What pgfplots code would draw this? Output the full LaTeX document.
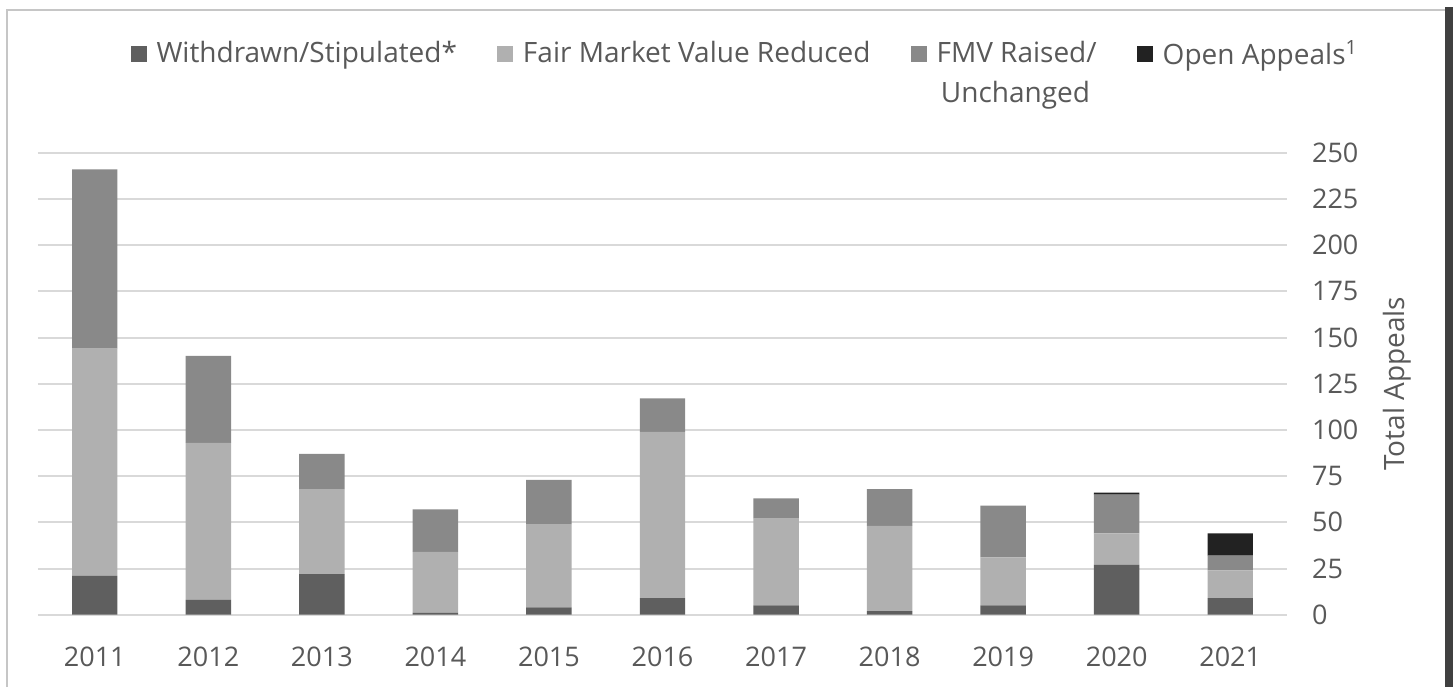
\documentclass[border=0pt]{standalone}
\usepackage{pgfplots}
\usepackage{pgfplotstable}
\pgfplotsset{compat=1.18}
\usepackage{fontspec}
\setmainfont{Open Sans}
\definecolor{wd}{HTML}{5F5F5F}
\definecolor{fr}{HTML}{B0B0B0}
\definecolor{rs}{HTML}{898989}
\definecolor{op}{HTML}{222222}
\definecolor{txt}{HTML}{595959}
\definecolor{gridc}{HTML}{D9D9D9}

\pgfplotstableread{
x wd fr rs op
0 21 123 97 0
1 8 85 47 0
2 22 46 19 0
3 1 33 23 0
4 4 45 24 0
5 9 90 18 0
6 5 47 11 0
7 2 46 20 0
8 5 26 28 0
9 27 17 21 1
10 9 15 8 12
}\datatable

\begin{document}
\begin{tikzpicture}[x=1pt,y=1pt]
\useasboundingbox (0,0) rectangle (726.5,343.5);
\fill[white] (0,0) rectangle (726.5,343.5);
\draw[gray!45, line width=1pt] (3.5,0) -- (3.5,338.7) -- (722.5,338.7);
\fill[black!75] (722.5,0) rectangle (726.5,340);
\begin{axis}[
  at={(19pt,36.15pt)}, anchor=south west,
  scale only axis, width=624.5pt, height=231pt,
  clip=false,
  ybar stacked, bar width=0.4,
  xmin=-0.5, xmax=10.5, ymin=0, ymax=250,
  ytick={0,25,...,250},
  xtick={0,...,10},
  xticklabels={2011,2012,2013,2014,2015,2016,2017,2018,2019,2020,2021},
  axis line style={draw=none},
  major tick length=0pt,
  ymajorgrids, grid style={gridc, line width=1pt},
  yticklabel pos=right,
  /pgf/number format/assume math mode=true,
  ticklabel style={font=\fontsize{13.5}{16}\selectfont, text=txt},
  yticklabel style={anchor=west},
  yticklabel shift=9pt,
  xticklabel style={anchor=north},
  xticklabel shift=12.5pt,
  ylabel={Total Appeals},
  ylabel style={font=\fontsize{14}{17}\selectfont, text=txt, at={(rel axis cs:1.088,0.5)}, anchor=center, rotate=0},
  legend style={at={(rel axis cs:0.567,1.214)}, anchor=center, draw=none, fill=none,
    legend columns=4, font=\fontsize{14}{17}\selectfont, text=txt,
    /tikz/every even column/.append style={column sep=18pt},
    /tikz/every odd column/.append style={column sep=3pt}},
  leg/.style={legend image code/.code={\fill[##1] (0pt,-4pt) rectangle (8pt,4pt);}},
]
\addplot[fill=wd, draw=none, leg] table[x=x, y=wd] {\datatable};
\addlegendentry{Withdrawn/Stipulated*}
\addplot[fill=fr, draw=none, leg] table[x=x, y=fr] {\datatable};
\addlegendentry{Fair Market Value Reduced}
\addplot[fill=rs, draw=none, leg] table[x=x, y=rs] {\datatable};
\addlegendentry{FMV Raised/}
\addplot[fill=op, draw=none, leg] table[x=x, y=op] {\datatable};
\addlegendentry{Open Appeals\textsuperscript{1}}
\node[anchor=west, text=txt, font=\fontsize{14}{17}\selectfont, inner sep=0pt] at (rel axis cs:0.7226,1.125) {Unchanged};
\end{axis}
\end{tikzpicture}
\end{document}
